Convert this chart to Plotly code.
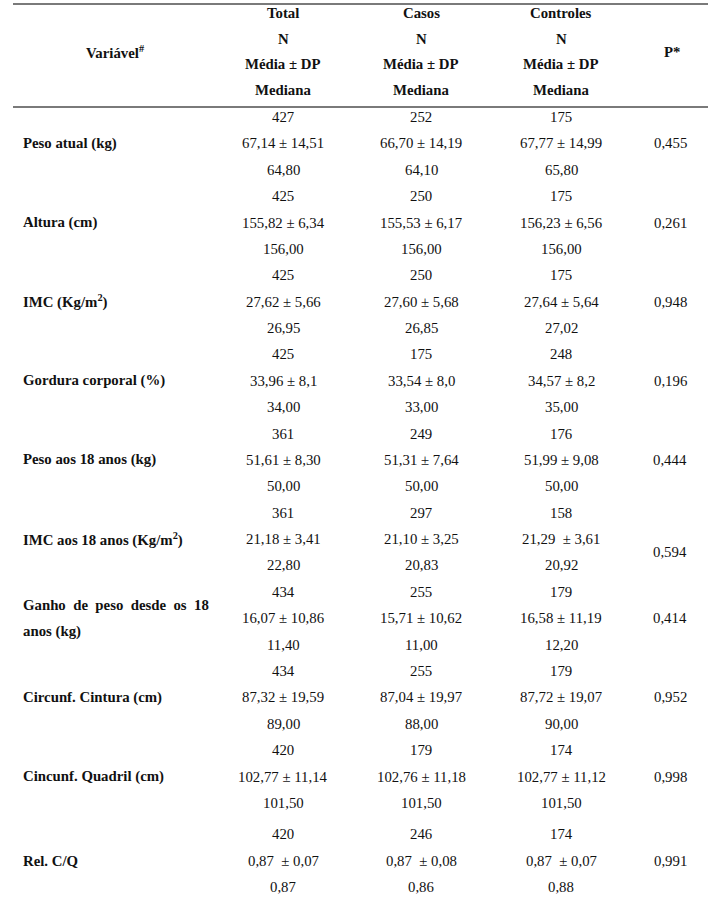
import plotly.graph_objects as go

# dados da tabela
variaveis = ["Peso atual (kg)", "Altura (cm)", "IMC (Kg/m<sup>2</sup>)", "Gordura corporal (%)",
             "Peso aos 18 anos (kg)", "IMC aos 18 anos (Kg/m<sup>2</sup>)",
             "Ganho  de  peso  desde  os  18<br>anos (kg)", "Circunf. Cintura (cm)",
             "Cincunf. Quadril (cm)", "Rel. C/Q"]

n_total = [427, 425, 425, 425, 361, 361, 434, 434, 420, 420]
media_total = ["67,14 ± 14,51", "155,82 ± 6,34", "27,62 ± 5,66", "33,96 ± 8,1", "51,61 ± 8,30",
               "21,18 ± 3,41", "16,07 ± 10,86", "87,32 ± 19,59", "102,77 ± 11,14", "0,87  ± 0,07"]
mediana_total = ["64,80", "156,00", "26,95", "34,00", "50,00", "22,80", "11,40", "89,00", "101,50", "0,87"]

n_casos = [252, 250, 250, 175, 249, 297, 255, 255, 179, 246]
media_casos = ["66,70 ± 14,19", "155,53 ± 6,17", "27,60 ± 5,68", "33,54 ± 8,0", "51,31 ± 7,64",
               "21,10 ± 3,25", "15,71 ± 10,62", "87,04 ± 19,97", "102,76 ± 11,18", "0,87  ± 0,08"]
mediana_casos = ["64,10", "156,00", "26,85", "33,00", "50,00", "20,83", "11,00", "88,00", "101,50", "0,86"]

n_controles = [175, 175, 175, 248, 176, 158, 179, 179, 174, 174]
media_controles = ["67,77 ± 14,99", "156,23 ± 6,56", "27,64 ± 5,64", "34,57 ± 8,2", "51,99 ± 9,08",
                   "21,29  ± 3,61", "16,58 ± 11,19", "87,72 ± 19,07", "102,77 ± 11,12", "0,87  ± 0,07"]
mediana_controles = ["65,80", "156,00", "27,02", "35,00", "50,00", "20,92", "12,20", "90,00", "101,50", "0,88"]

p_valor = ["0,455", "0,261", "0,948", "0,196", "0,444", "0,594", "0,414", "0,952", "0,998", "0,991"]

cabecalho_grupos = ["Total", "Casos", "Controles"]
cabecalho_linhas = ["N", "Média ± DP", "Mediana"]

# layout da tabela (em pixels da pagina)
W, H = 708, 909
FONTE = dict(family="Liberation Serif, Times New Roman, serif", size=14.8, color="#111111")
x_rotulo = 21
x_cols = [283, 421, 561]
x_p = 670
y_cab0, passo_cab = 13, 25.7
y0, passo = 117, 26.38
extra_ultimo = 5
p_entre = {5}  # linha do P entre a 2a e 3a linha

anots = []


def texto(x, y, s, anchor="center", bold=False):
    anots.append(dict(x=x, y=y, xref="x", yref="y", text=("<b>%s</b>" % s) if bold else s,
                      showarrow=False, xanchor=anchor, yanchor="middle", font=FONTE))


# cabecalho
texto(115, y_cab0 + 1.5 * passo_cab, "Variável<sup>#</sup>", bold=True)
for xc, g in zip(x_cols, cabecalho_grupos):
    texto(xc, y_cab0, g, bold=True)
    for k, lin in enumerate(cabecalho_linhas):
        texto(xc, y_cab0 + (k + 1) * passo_cab, lin, bold=True)
texto(x_p + 2, y_cab0 + 1.5 * passo_cab, "P*", bold=True)

# corpo
colunas = [(n_total, media_total, mediana_total),
           (n_casos, media_casos, mediana_casos),
           (n_controles, media_controles, mediana_controles)]
for i, var in enumerate(variaveis):
    base = y0 + passo * 3 * i + (extra_ultimo if i == len(variaveis) - 1 else 0)
    partes = var.split("<br>")
    for j, parte in enumerate(partes):
        dy = (j - (len(partes) - 1) / 2) * 27
        texto(x_rotulo, base + passo + dy, parte, anchor="left", bold=True)
    for xc, (ns, medias, medianas) in zip(x_cols, colunas):
        texto(xc, base, str(ns[i]))
        texto(xc, base + passo, medias[i])
        texto(xc, base + 2 * passo, medianas[i])
    yp = base + (1.5 if i in p_entre else 1) * passo
    texto(x_p, yp, p_valor[i])

linhas = [dict(type="line", xref="x", yref="y", x0=13, x1=W, y0=yy, y1=yy,
               line=dict(color="#7a7a7a", width=2)) for yy in (4, 107)]

fig = go.Figure()
fig.update_layout(width=W, height=H, margin=dict(l=0, r=0, t=0, b=0),
                  paper_bgcolor="white", plot_bgcolor="white",
                  xaxis=dict(range=[0, W], visible=False, fixedrange=True),
                  yaxis=dict(range=[H, 0], visible=False, fixedrange=True),
                  annotations=anots, shapes=linhas, showlegend=False)

# tira a margem padrao do body para a figura comecar no canto da pagina
fig.write_html("out.html", config={"displayModeBar": False},
               post_script="document.body.style.margin='0';")
